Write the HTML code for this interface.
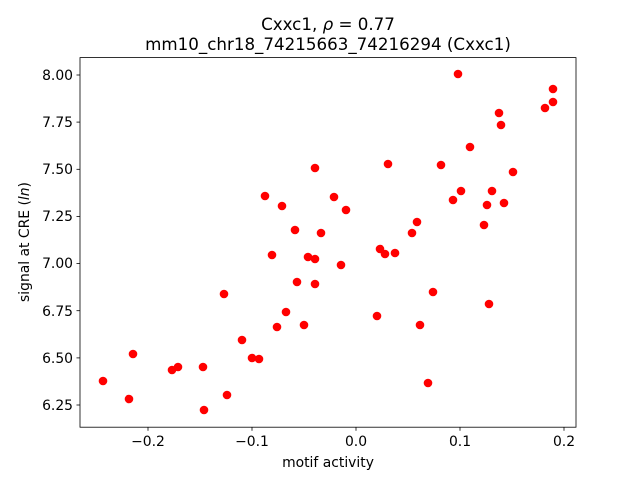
<!DOCTYPE html>
<html><head><meta charset="utf-8"><style>body{margin:0;background:#fff}svg{display:block;font-family:"DejaVu Sans","Liberation Sans",sans-serif}</style></head><body>
<svg width="640" height="480" viewBox="0 0 640 480" xmlns="http://www.w3.org/2000/svg">
<rect width="640" height="480" fill="#fff"/>
<g fill="#ff0000">
<circle cx="103" cy="381" r="4.3"/><circle cx="129" cy="399" r="4.3"/><circle cx="133" cy="354" r="4.3"/><circle cx="172" cy="370" r="4.3"/><circle cx="178" cy="367" r="4.3"/><circle cx="203" cy="367" r="4.3"/><circle cx="204" cy="410" r="4.3"/><circle cx="224" cy="294" r="4.3"/><circle cx="227" cy="395" r="4.3"/><circle cx="242" cy="340" r="4.3"/><circle cx="252" cy="358" r="4.3"/><circle cx="259" cy="359" r="4.3"/><circle cx="265" cy="196" r="4.3"/><circle cx="272" cy="255" r="4.3"/><circle cx="277" cy="327" r="4.3"/><circle cx="282" cy="206" r="4.3"/><circle cx="286" cy="312" r="4.3"/><circle cx="295" cy="230" r="4.3"/><circle cx="297" cy="282" r="4.3"/><circle cx="304" cy="325" r="4.3"/><circle cx="308" cy="257" r="4.3"/><circle cx="315" cy="259" r="4.3"/><circle cx="315" cy="168" r="4.3"/><circle cx="315" cy="284" r="4.3"/><circle cx="321" cy="233" r="4.3"/><circle cx="334" cy="197" r="4.3"/><circle cx="341" cy="265" r="4.3"/><circle cx="346" cy="210" r="4.3"/><circle cx="377" cy="316" r="4.3"/><circle cx="380" cy="249" r="4.3"/><circle cx="385" cy="254" r="4.3"/><circle cx="388" cy="164" r="4.3"/><circle cx="395" cy="253" r="4.3"/><circle cx="412" cy="233" r="4.3"/><circle cx="417" cy="222" r="4.3"/><circle cx="420" cy="325" r="4.3"/><circle cx="428" cy="383" r="4.3"/><circle cx="433" cy="292" r="4.3"/><circle cx="441" cy="165" r="4.3"/><circle cx="453" cy="200" r="4.3"/><circle cx="458" cy="74" r="4.3"/><circle cx="461" cy="191" r="4.3"/><circle cx="470" cy="147" r="4.3"/><circle cx="484" cy="225" r="4.3"/><circle cx="487" cy="205" r="4.3"/><circle cx="489" cy="304" r="4.3"/><circle cx="492" cy="191" r="4.3"/><circle cx="499" cy="113" r="4.3"/><circle cx="501" cy="125" r="4.3"/><circle cx="504" cy="203" r="4.3"/><circle cx="513" cy="172" r="4.3"/><circle cx="545" cy="108" r="4.3"/><circle cx="553" cy="102" r="4.3"/><circle cx="553" cy="89" r="4.3"/>
</g>
<rect x="80" y="57.6" width="496" height="369.6" fill="none" stroke="#000" stroke-width="0.8"/>
<g stroke="#000" stroke-width="0.8">
<line x1="148" y1="427.2" x2="148" y2="430.7"/><line x1="252" y1="427.2" x2="252" y2="430.7"/><line x1="356" y1="427.2" x2="356" y2="430.7"/><line x1="460" y1="427.2" x2="460" y2="430.7"/><line x1="564" y1="427.2" x2="564" y2="430.7"/>
<line x1="76.5" y1="75" x2="80" y2="75"/><line x1="76.5" y1="122.1" x2="80" y2="122.1"/><line x1="76.5" y1="169.3" x2="80" y2="169.3"/><line x1="76.5" y1="216.4" x2="80" y2="216.4"/><line x1="76.5" y1="263.6" x2="80" y2="263.6"/><line x1="76.5" y1="310.7" x2="80" y2="310.7"/><line x1="76.5" y1="357.9" x2="80" y2="357.9"/><line x1="76.5" y1="405" x2="80" y2="405"/>
</g>
<g font-size="13.9" fill="#000" text-anchor="middle">
<text x="148" y="446">−0.2</text><text x="252" y="446">−0.1</text><text x="356" y="446">0.0</text><text x="460" y="446">0.1</text><text x="564" y="446">0.2</text>
</g>
<g font-size="13.9" fill="#000" text-anchor="end">
<text x="73" y="80">8.00</text><text x="73" y="127">7.75</text><text x="73" y="174">7.50</text><text x="73" y="221">7.25</text><text x="73" y="268">7.00</text><text x="73" y="316">6.75</text><text x="73" y="363">6.50</text><text x="73" y="410">6.25</text>
</g>
<text x="328" y="467" font-size="13.9" text-anchor="middle">motif activity</text>
<text transform="translate(29,242) rotate(-90)" font-size="13.9" text-anchor="middle">signal at CRE (<tspan font-style="italic">ln</tspan>)</text>
<text x="328" y="30" font-size="16.7" text-anchor="middle">Cxxc1, <tspan font-style="italic">ρ</tspan> = 0.77</text>
<text x="328" y="50" font-size="16.7" text-anchor="middle">mm10_chr18_74215663_74216294 (Cxxc1)</text>
</svg>
</body></html>
